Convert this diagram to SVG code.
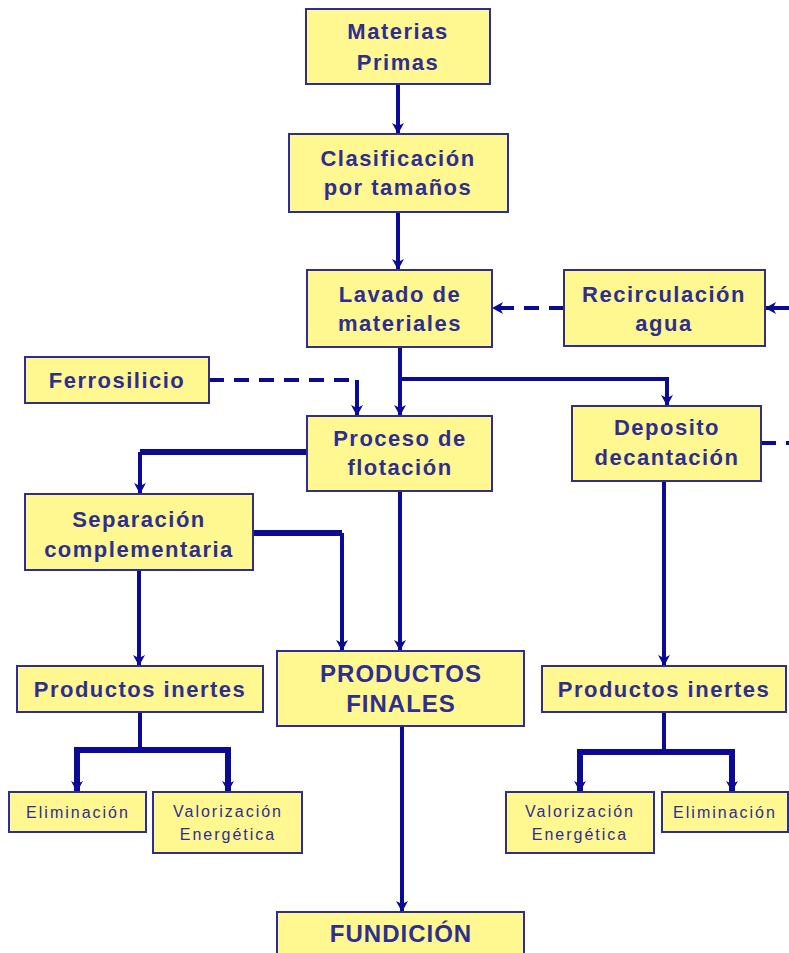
<svg xmlns="http://www.w3.org/2000/svg" width="789" height="953" viewBox="0 0 789 953">
  <style>
    .box { fill: #FFF78F; stroke: #2E2E8F; stroke-width: 2; }
    .lbl { font-family: "Liberation Sans", Arial, sans-serif; font-weight: bold; font-size: 22px; letter-spacing: 1.5px; fill: #2E2E8F; text-anchor: middle; }
    .cap { font-family: "Liberation Sans", Arial, sans-serif; font-weight: bold; font-size: 24px; letter-spacing: 1px; fill: #2E2E8F; text-anchor: middle; }
    .sm { font-family: "Liberation Sans", Arial, sans-serif; font-size: 16px; letter-spacing: 2px; fill: #2E2E8F; text-anchor: middle; }
    .ln { fill: none; stroke: #0A0A96; stroke-width: 4; }
    .thick { stroke-width: 6; }
    .dash { stroke-dasharray: 15 10; }
  </style>
  <defs>
    <marker id="ah" markerUnits="userSpaceOnUse" markerWidth="12" markerHeight="12" refX="11" refY="6" orient="auto">
      <path d="M0,0 L11,6 L0,12 L3,6 z" fill="#0A0A96"/>
    </marker>
  </defs>
  <rect width="789" height="953" fill="#FFFFFF"/>

  <g id="connectors">
    <path class="ln" d="M398,84 V134" marker-end="url(#ah)"/>
    <path class="ln" d="M398,212 V270" marker-end="url(#ah)"/>
    <path class="ln" d="M400,347 V416" marker-end="url(#ah)"/>
    <path class="ln" d="M400,379 H667 V406" marker-end="url(#ah)"/>
    <path class="ln dash" d="M564,308 H492" marker-end="url(#ah)"/>
    <path class="ln" d="M789,308 H765" marker-end="url(#ah)"/>
    <path class="ln dash" d="M761,443 H789"/>
    <path class="ln dash" d="M209,380 H357"/>
    <path class="ln" d="M357,380 V416" marker-end="url(#ah)"/>
    <path class="ln thick" d="M307,452 H140"/>
    <path class="ln" d="M140,452 V494" marker-end="url(#ah)"/>
    <path class="ln" d="M400,491 V651" marker-end="url(#ah)"/>
    <path class="ln thick" d="M253,533 H342"/>
    <path class="ln" d="M342,533 V651" marker-end="url(#ah)"/>
    <path class="ln" d="M139,570 V666" marker-end="url(#ah)"/>
    <path class="ln" d="M140,712 V750"/>
    <path class="ln thick" d="M77,750 H228"/>
    <path class="ln thick" d="M77,747 V792" marker-end="url(#ah)"/>
    <path class="ln thick" d="M228,747 V792" marker-end="url(#ah)"/>
    <path class="ln" d="M402,726 V912" marker-end="url(#ah)"/>
    <path class="ln" d="M664,481 V666" marker-end="url(#ah)"/>
    <path class="ln" d="M664,712 V752"/>
    <path class="ln thick" d="M580,752 H732"/>
    <path class="ln thick" d="M580,749 V792" marker-end="url(#ah)"/>
    <path class="ln thick" d="M732,749 V792" marker-end="url(#ah)"/>
  </g>

  <g id="materias-primas">
    <rect class="box" x="306" y="9" width="184" height="75"/>
    <text class="lbl" x="398" y="39">Materias</text>
    <text class="lbl" x="398" y="70">Primas</text>
  </g>
  <g id="clasificacion">
    <rect class="box" x="289" y="134" width="219" height="78"/>
    <text class="lbl" x="398" y="166">Clasificación</text>
    <text class="lbl" x="398" y="195">por tamaños</text>
  </g>
  <g id="lavado">
    <rect class="box" x="307" y="270" width="185" height="77"/>
    <text class="lbl" x="400" y="302">Lavado de</text>
    <text class="lbl" x="400" y="331">materiales</text>
  </g>
  <g id="recirculacion">
    <rect class="box" x="564" y="270" width="201" height="76"/>
    <text class="lbl" x="664" y="302">Recirculación</text>
    <text class="lbl" x="664" y="331">agua</text>
  </g>
  <g id="ferrosilicio">
    <rect class="box" x="25" y="357" width="184" height="46"/>
    <text class="lbl" x="117" y="388">Ferrosilicio</text>
  </g>
  <g id="proceso-flotacion">
    <rect class="box" x="307" y="416" width="185" height="75"/>
    <text class="lbl" x="400" y="446">Proceso de</text>
    <text class="lbl" x="400" y="475">flotación</text>
  </g>
  <g id="deposito">
    <rect class="box" x="572" y="406" width="189" height="75"/>
    <text class="lbl" x="667" y="435">Deposito</text>
    <text class="lbl" x="667" y="465">decantación</text>
  </g>
  <g id="separacion">
    <rect class="box" x="25" y="494" width="228" height="76"/>
    <text class="lbl" x="139" y="527">Separación</text>
    <text class="lbl" x="139" y="557">complementaria</text>
  </g>
  <g id="productos-inertes-izq">
    <rect class="box" x="17" y="666" width="246" height="46"/>
    <text class="lbl" x="140" y="697">Productos inertes</text>
  </g>
  <g id="productos-finales">
    <rect class="box" x="277" y="651" width="247" height="75"/>
    <text class="cap" x="401" y="682">PRODUCTOS</text>
    <text class="cap" x="401" y="712">FINALES</text>
  </g>
  <g id="productos-inertes-der">
    <rect class="box" x="542" y="666" width="244" height="46"/>
    <text class="lbl" x="664" y="697">Productos inertes</text>
  </g>
  <g id="eliminacion-izq">
    <rect class="box" x="9" y="792" width="137" height="40"/>
    <text class="sm" x="78" y="818">Eliminación</text>
  </g>
  <g id="valorizacion-izq">
    <rect class="box" x="153" y="792" width="149" height="61"/>
    <text class="sm" x="228" y="817">Valorización</text>
    <text class="sm" x="228" y="840">Energética</text>
  </g>
  <g id="valorizacion-der">
    <rect class="box" x="506" y="792" width="148" height="61"/>
    <text class="sm" x="580" y="817">Valorización</text>
    <text class="sm" x="580" y="840">Energética</text>
  </g>
  <g id="eliminacion-der">
    <rect class="box" x="662" y="792" width="126" height="40"/>
    <text class="sm" x="725" y="818">Eliminación</text>
  </g>
  <g id="fundicion">
    <rect class="box" x="277" y="912" width="247" height="50"/>
    <text class="cap" x="401" y="942">FUNDICIÓN</text>
  </g>
</svg>
